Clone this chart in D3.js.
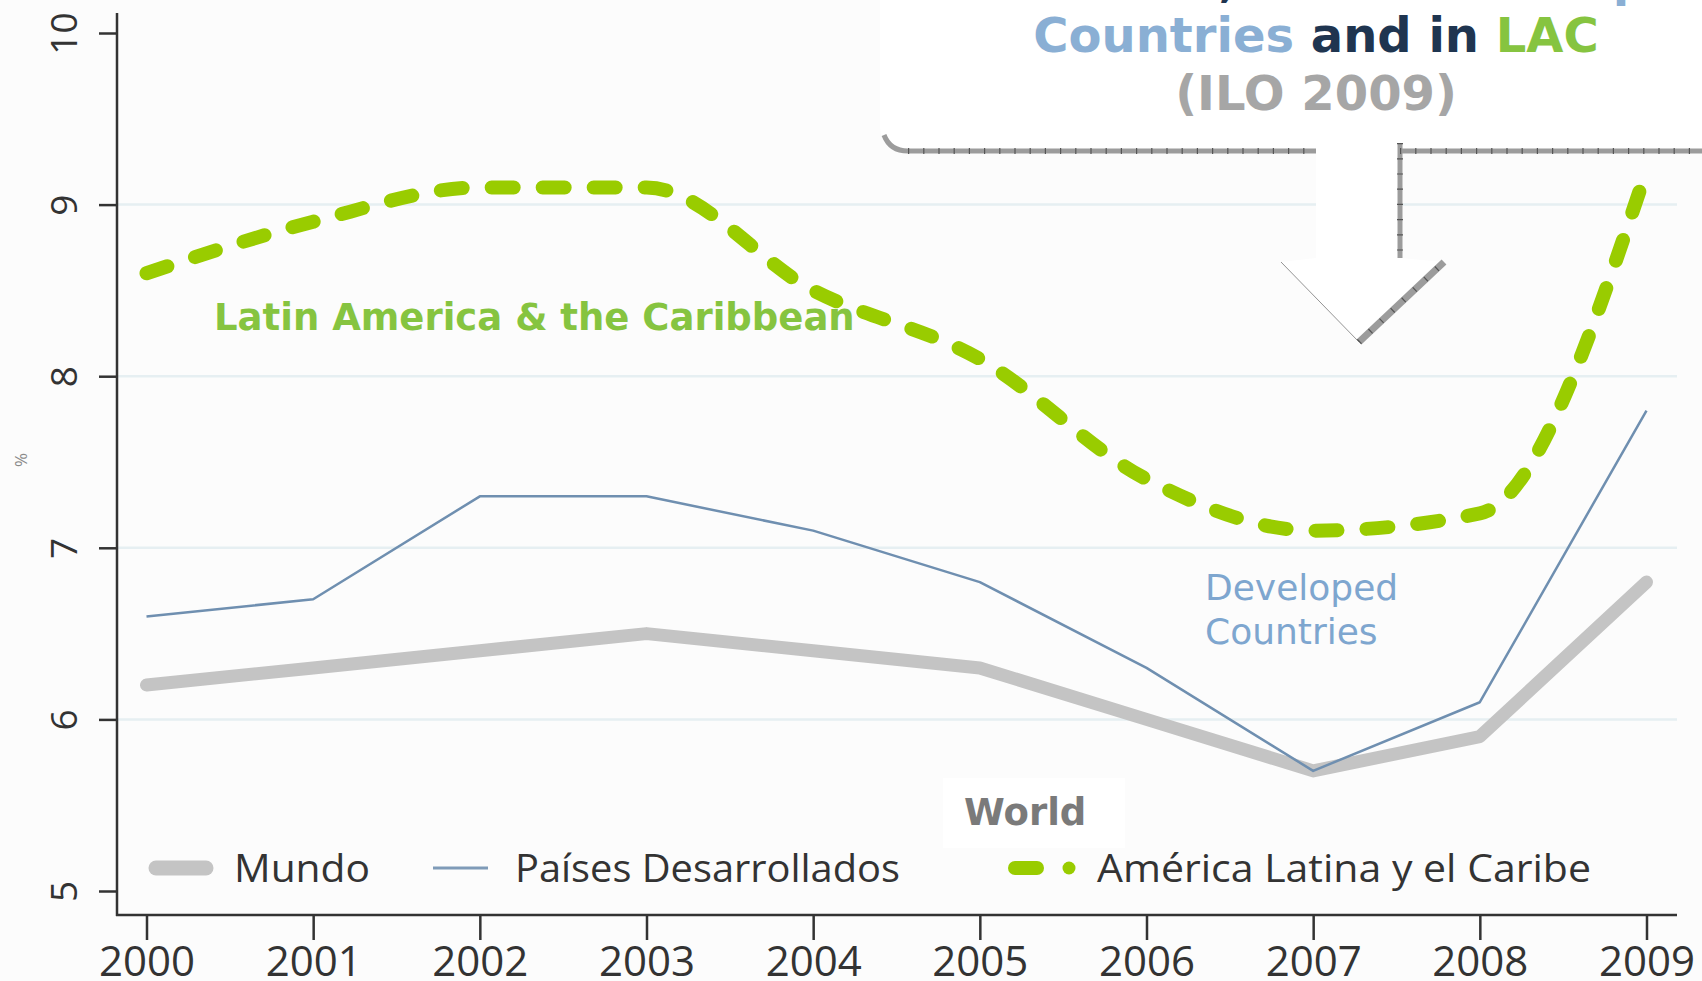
<!DOCTYPE html>
<html>
<head>
<meta charset="utf-8">
<script src="https://cdn.jsdelivr.net/npm/d3@7"></script>
<style>
body { margin: 0; background: #fcfcfc; }
svg { display: block; }
</style>
</head>
<body>
<div id="chart"></div>
<script>
// data (% unemployment)
var years = [2000, 2001, 2002, 2003, 2004, 2005, 2006, 2007, 2008, 2009];
var mundo = [6.2, 6.3, 6.4, 6.5, 6.4, 6.3, 6.0, 5.7, 5.9, 6.8];
var desarrollados = [6.6, 6.7, 7.3, 7.3, 7.1, 6.8, 6.3, 5.7, 6.1, 7.8];
var latam = [8.6, 8.9, 9.1, 9.1, 8.5, 8.1, 7.4, 7.1, 7.2, 9.2];
var yTicks = [5, 6, 7, 8, 9, 10];
var gridValues = [6, 7, 8, 9];
var legendNames = ["Mundo", "Países Desarrollados", "América Latina y el Caribe"];

var svgWidth = 1702;
var svgHeight = 981;

var svg = d3.select("#chart")
    .append("svg")
    .attr("width", svgWidth)
    .attr("height", svgHeight)
    .style("background", "#fcfcfc");

var xScale = d3.scaleLinear().domain([2000, 2009]).range([146.5, 1646.5]);
var yScale = d3.scaleLinear().domain([5, 10]).range([891, 33]);

var axisLeftX = 117;
var axisBottomY = 915;
var axisRight = 1677;

// gridlines
svg.append("g")
    .selectAll("line")
    .data(gridValues)
    .enter()
    .append("line")
    .attr("x1", axisLeftX)
    .attr("x2", axisRight)
    .attr("y1", d => yScale(d))
    .attr("y2", d => yScale(d))
    .attr("stroke", "#e6eff2")
    .attr("stroke-width", 2.5);

// y axis
var leftAxis = d3.axisLeft(yScale).tickValues(yTicks).tickFormat(d3.format("d"))
    .tickSize(18).tickSizeOuter(0);
var gy = svg.append("g")
    .attr("transform", `translate(${axisLeftX}, 0)`)
    .call(leftAxis);
gy.select(".domain").remove();
gy.selectAll(".tick line").attr("stroke", "#333").attr("stroke-width", 2.5);
gy.selectAll(".tick text")
    .attr("transform", "rotate(-90)")
    .attr("x", 0)
    .attr("y", -40)
    .attr("dy", 0)
    .attr("text-anchor", "middle")
    .attr("fill", "#333")
    .style("font-family", "'Open Sans', sans-serif")
    .style("font-size", "37px");

// x axis
var bottomAxis = d3.axisBottom(xScale).tickValues(years).tickFormat(d3.format("d"))
    .tickSize(25).tickSizeOuter(0).tickPadding(6);
var gx = svg.append("g")
    .attr("transform", `translate(0, ${axisBottomY})`)
    .call(bottomAxis);
gx.select(".domain").remove();
gx.selectAll(".tick line").attr("stroke", "#333").attr("stroke-width", 2.5);
gx.selectAll(".tick text")
    .attr("fill", "#333")
    .style("font-family", "'Open Sans', sans-serif")
    .style("font-size", "42px");

// axis lines
svg.append("line")
    .attr("x1", axisLeftX).attr("x2", axisLeftX)
    .attr("y1", 13).attr("y2", axisBottomY + 1)
    .attr("stroke", "#333").attr("stroke-width", 2.5);
svg.append("line")
    .attr("x1", axisLeftX - 1).attr("x2", axisRight)
    .attr("y1", axisBottomY).attr("y2", axisBottomY)
    .attr("stroke", "#333").attr("stroke-width", 2.5);

// % label
svg.append("text")
    .attr("transform", "translate(27, 460) rotate(-90)")
    .attr("text-anchor", "middle")
    .attr("fill", "#8a8a8a")
    .style("font-family", "'Open Sans', sans-serif")
    .style("font-size", "17px")
    .text("%");

// lines
var straight = d3.line()
    .x((d, i) => xScale(years[i]))
    .y(d => yScale(d));
var smooth = d3.line()
    .x((d, i) => xScale(years[i]))
    .y(d => yScale(d))
    .curve(d3.curveMonotoneX);

svg.append("path")
    .datum(mundo)
    .attr("d", straight)
    .attr("fill", "none")
    .attr("stroke", "#c4c4c4")
    .attr("stroke-width", 13)
    .attr("stroke-linecap", "round")
    .attr("stroke-linejoin", "round");

svg.append("path")
    .datum(desarrollados)
    .attr("d", straight)
    .attr("fill", "none")
    .attr("stroke", "#6f8fb0")
    .attr("stroke-width", 2.5)
    .attr("stroke-linejoin", "round");

svg.append("path")
    .datum(latam)
    .attr("d", smooth)
    .attr("fill", "none")
    .attr("stroke", "#99cc00")
    .attr("stroke-width", 14)
    .attr("stroke-linecap", "round")
    .attr("stroke-dasharray", "22 29");

// legend
var legend = svg.append("g");
legend.append("line")
    .attr("x1", 156).attr("x2", 206).attr("y1", 868).attr("y2", 868)
    .attr("stroke", "#c4c4c4").attr("stroke-width", 15).attr("stroke-linecap", "round");
legend.append("line")
    .attr("x1", 433).attr("x2", 488).attr("y1", 868).attr("y2", 868)
    .attr("stroke", "#7f9bb8").attr("stroke-width", 3);
legend.append("line")
    .attr("x1", 1015).attr("x2", 1037).attr("y1", 868).attr("y2", 868)
    .attr("stroke", "#99cc00").attr("stroke-width", 14).attr("stroke-linecap", "round");
legend.append("circle")
    .attr("cx", 1069).attr("cy", 868).attr("r", 6.5)
    .attr("fill", "#99cc00");

var legendX = [234, 515, 1097];
var legendW = [136, 385, 494];
legend.selectAll("text.leg")
    .data(legendNames)
    .enter()
    .append("text")
    .attr("class", "leg")
    .attr("x", (d, i) => legendX[i])
    .attr("y", 882)
    .attr("textLength", (d, i) => legendW[i])
    .attr("lengthAdjust", "spacingAndGlyphs")
    .attr("fill", "#333")
    .style("font-family", "'Open Sans', sans-serif")
    .style("font-size", "38px")
    .text(d => d);

// annotations
svg.append("text")
    .attr("x", 214).attr("y", 330)
    .attr("fill", "#86c440")
    .style("font-family", "'DejaVu Sans', sans-serif")
    .style("font-weight", "bold")
    .style("font-size", "37px")
    .text("Latin America & the Caribbean");

svg.append("text")
    .attr("x", 1205).attr("y", 600)
    .attr("fill", "#7ea6cf")
    .style("font-family", "'DejaVu Sans', sans-serif")
    .style("font-size", "36px")
    .text("Developed");
svg.append("text")
    .attr("x", 1205).attr("y", 644)
    .attr("fill", "#7ea6cf")
    .style("font-family", "'DejaVu Sans', sans-serif")
    .style("font-size", "36px")
    .text("Countries");

svg.append("rect")
    .attr("x", 943).attr("y", 778).attr("width", 182).attr("height", 70)
    .attr("fill", "#ffffff");
svg.append("text")
    .attr("x", 964).attr("y", 825)
    .attr("fill", "#7a7a7a")
    .style("font-family", "'DejaVu Sans', sans-serif")
    .style("font-weight", "bold")
    .style("font-size", "37px")
    .text("World");

// callout box
var callout = svg.append("g");
callout.append("path")
    .attr("d", "M880,-5 L880,125 Q880,151 906,151 L1316,151 L1316,258 L1281,262 L1359,342 L1444,262 L1400,258 L1400,151 L1710,151 L1710,-5 Z")
    .attr("fill", "#ffffff");

var edges = [
    "M884,135 Q890,151 908,151",
    "M908,151 L1316,151",
    "M1400,151 L1702,151",
    "M1400,143 L1400,258",
    "M1359,342 L1444,262"
];
callout.selectAll("path.edge")
    .data(edges)
    .enter()
    .append("path")
    .attr("class", "edge")
    .attr("d", d => d)
    .attr("fill", "none")
    .attr("stroke", "#9c9c9c")
    .attr("stroke-width", (d, i) => i === 4 ? 7 : 5);
callout.selectAll("path.hatch")
    .data(edges.slice(1))
    .enter()
    .append("path")
    .attr("class", "hatch")
    .attr("d", d => d)
    .attr("fill", "none")
    .attr("stroke", "#555")
    .attr("stroke-width", 6)
    .attr("stroke-dasharray", "1.2 14");
callout.append("path")
    .attr("d", "M1281,262 L1359,342")
    .attr("stroke", "#666")
    .attr("stroke-width", 0.7);

var titleFont = "'DejaVu Sans', sans-serif";
var t1 = callout.append("text")
    .attr("x", 1300).attr("y", -4)
    .attr("text-anchor", "middle")
    .style("font-family", titleFont)
    .style("font-weight", "bold")
    .style("font-size", "48px");
t1.append("tspan").attr("fill", "#1f3550").text("in the World, in the ");
t1.append("tspan").attr("fill", "#8aafd4").text("Developed");

var t2 = callout.append("text")
    .attr("x", 1316).attr("y", 52)
    .attr("text-anchor", "middle")
    .style("font-family", titleFont)
    .style("font-weight", "bold")
    .style("font-size", "48px");
t2.append("tspan").attr("fill", "#8aafd4").text("Countries");
t2.append("tspan").attr("fill", "#1f3550").text(" and in ");
t2.append("tspan").attr("fill", "#86c440").text("LAC");

callout.append("text")
    .attr("x", 1316).attr("y", 110)
    .attr("text-anchor", "middle")
    .attr("fill", "#a6a6a6")
    .style("font-family", titleFont)
    .style("font-weight", "bold")
    .style("font-size", "48px")
    .text("(ILO 2009)");
</script>
</body>
</html>
